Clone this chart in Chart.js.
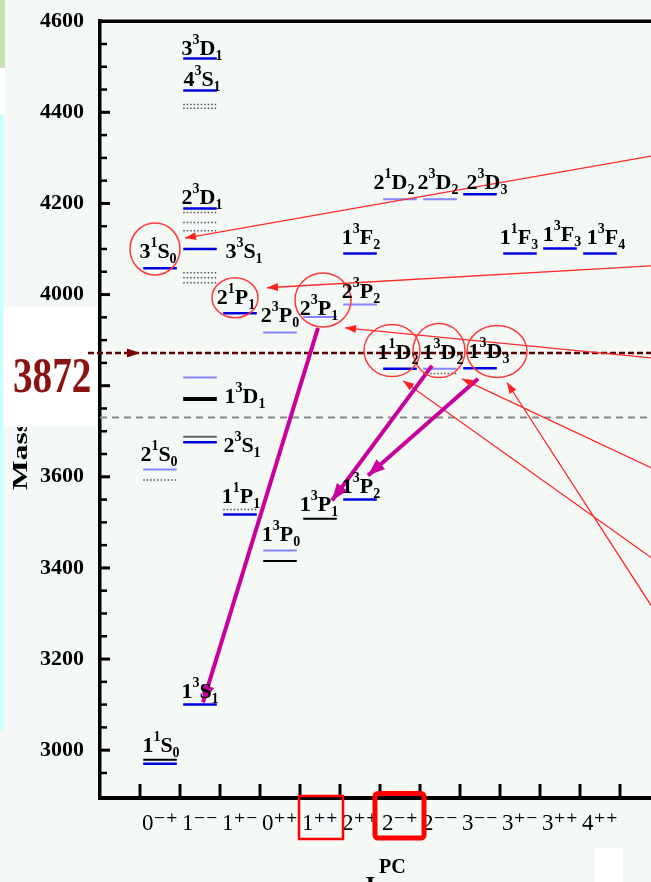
<!DOCTYPE html>
<html>
<head>
<meta charset="utf-8">
<script src="https://cdn.jsdelivr.net/npm/chart.js@4.4.1/dist/chart.umd.min.js"></script>
<style>
  html, body { margin: 0; padding: 0; background: #f5f9f6; overflow: hidden; }
  #wrap { position: relative; width: 651px; height: 882px; }
  canvas { display: block; }
</style>
</head>
<body>
<div id="wrap"><canvas id="spectrum" width="651" height="882"></canvas></div>
<script>
// ---- charmonium spectrum: J^PC columns and masses (MeV) ----
const jpcLabels = ['0-+', '1--', '1+-', '0++', '1++', '2++', '2-+', '2--', '3--', '3+-', '3++', '4++'];
const massTicks = [3000, 3200, 3400, 3600, 3800, 4000, 4200, 4400, 4600];

// predicted levels: name (n^(2S+1)L_J), J^PC column, mass, kind (b = blue, p = pale blue, k = black)
const stateNames = ['1^1S_0', '1^3S_1', '2^1S_0', '2^3S_1', '1^3D_1', '3^1S_0', '3^3S_1', '2^3D_1', '4^3S_1', '3^3D_1',
                    '1^1P_1', '2^1P_1', '1^3P_0', '2^3P_0', '1^3P_1', '2^3P_1', '1^3P_2', '2^3P_2', '1^3F_2',
                    '1^1D_2', '2^1D_2', '1^3D_2', '2^3D_2', '1^3D_3', '2^3D_3', '1^1F_3', '1^3F_3', '1^3F_4'];
const stateJpc   = [0, 1, 0, 1, 1, 0, 1, 1, 1, 1,
                    2, 2, 3, 3, 4, 4, 5, 5, 5,
                    6, 6, 7, 7, 8, 8, 9, 10, 11];
const stateMass  = [2970, 3100, 3616, 3676, 3818, 4058, 4100, 4189, 4448, 4518,
                    3517, 3959, 3438, 3917, 3508, 3951, 3550, 3978, 4090,
                    3837, 4209, 3837, 4209, 3838, 4220, 4090, 4101, 4090];
const stateKind  = ['b', 'b', 'p', 'b', 'p', 'b', 'b', 'b', 'b', 'b',
                    'b', 'b', 'p', 'p', 'k', 'p', 'b', 'p', 'b',
                    'b', 'p', 'p', 'p', 'b', 'b', 'b', 'b', 'b'];

// measured levels (solid black) and further measured states (dotted)
const observedJpc  = [0, 1, 1, 3];
const observedMass = [2979, 3688, 3771, 3415];
const dottedJpc    = [1, 1, 1, 1, 1, 1, 1, 1, 0, 2, 7];
const dottedMass   = [4417, 4409, 4180, 4158, 4140, 4048, 4037, 4026, 3593, 3528, 3827];

// thresholds
const ddThreshold = 3730;
const x3872 = 3872;

// transitions: [from column, from mass, to column, to mass]
const redLinks = [
  [12.275, 4304, 0.625, 4124],
  [12.275, 4063, 2.675, 4015],
  [12.275, 3861, 4.625, 3927],
  [12.275, 3423, 6.075, 3811],
  [12.275, 3620, 7.55, 3815],
  [12.275, 3318, 8.675, 3807]
];
const radiativeLinks = [
  [3.95, 3927, 1.075, 3105],
  [6.8, 3844, 4.3, 3548],
  [7.95, 3815, 5.2, 3603]
];

// highlighted states: [column, mass, rx, ry]
const rings = [
  [-0.125, 4100, 25, 26],
  [1.875, 3993, 23, 20],
  [4.075, 3988, 28, 27],
  [5.8, 3877, 28, 26],
  [6.975, 3877, 26, 27],
  [8.425, 3875, 30, 26]
];

// label placement next to each level, in px: [dx, dy]
const labelLayout = [
  [1, -12], [0, -7], [-1, -9], [42, 10], [45, 26], [-2, -10], [44, 9], [2, -4], [2, -4], [2, -4],
  [1, -12], [-4, -9], [1, -10], [0, -10], [-1, -8], [-1, -2], [1, -7], [1, -7], [1, -10],
  [-2, -10], [-6, -10], [3, -10], [-2, -10], [9, -10], [7, -5], [-1, -10], [2, -8], [6, -10]
];

const HALF = 0.42;
const SERIF = '"Liberation Serif", "DejaVu Serif", serif';
const BLUE = '#0000e0';
const PALE = '#8585ff';

function levelSegments(cols, masses) {
  const pts = [];
  cols.forEach((c, i) => {
    pts.push({ x: c - HALF, y: masses[i] }, { x: c + HALF, y: masses[i] }, { x: c, y: null });
  });
  return pts;
}
function linkSegments(links) {
  const pts = [];
  links.forEach(l => pts.push({ x: l[0], y: l[1] }, { x: l[2], y: l[3] }, { x: l[2], y: null }));
  return pts;
}
function pick(kind) {
  const c = [], m = [];
  stateKind.forEach((k, i) => { if (k === kind) { c.push(stateJpc[i]); m.push(stateMass[i]); } });
  return [c, m];
}
const supMap = { '-': '\u207B', '+': '\u207A' };
function jpcText(s) { return s[0] + s.slice(1).split('').map(ch => supMap[ch]).join(''); }

function arrowHead(ctx, x0, y0, x1, y1, len, w, color) {
  const a = Math.atan2(y1 - y0, x1 - x0);
  ctx.save();
  ctx.translate(x1, y1);
  ctx.rotate(a);
  ctx.beginPath();
  ctx.moveTo(0, 0);
  ctx.lineTo(-len, w / 2);
  ctx.lineTo(-len, -w / 2);
  ctx.closePath();
  ctx.fillStyle = color;
  ctx.fill();
  ctx.restore();
}

function drawStateLabel(ctx, name, cx, by) {
  const m = name.match(/^(\d)\^(\d)([A-Z])_(\d)$/);
  const big = 'bold 22px ' + SERIF, small = 'bold 14px ' + SERIF;
  ctx.font = big; const w1 = ctx.measureText(m[1]).width, w3 = ctx.measureText(m[3]).width;
  ctx.font = small; const w2 = ctx.measureText(m[2]).width, w4 = ctx.measureText(m[4]).width;
  let x = cx - (w1 + w2 + w3 + w4) / 2;
  ctx.fillStyle = '#000';
  ctx.textAlign = 'left';
  ctx.textBaseline = 'alphabetic';
  ctx.font = big; ctx.fillText(m[1], x, by); x += w1;
  ctx.font = small; ctx.fillText(m[2], x, by - 11); x += w2;
  ctx.font = big; ctx.fillText(m[3], x, by); x += w3;
  ctx.font = small; ctx.fillText(m[4], x, by + 5);
}

const decor = {
  id: 'decor',
  beforeDraw(chart) {
    const ctx = chart.ctx;
    ctx.save();
    ctx.fillStyle = '#f5f9f6';
    ctx.fillRect(0, 0, chart.width, chart.height);
    ctx.fillStyle = '#c9e2b3';
    ctx.fillRect(0, 0, 5, 68);
    ctx.fillStyle = '#ffffff';
    ctx.fillRect(0, 68, 5, 47);
    ctx.fillStyle = '#c8ffff';
    ctx.fillRect(0, 115, 3.5, 615);
    ctx.fillStyle = '#ffffff';
    ctx.fillRect(595, 848, 28, 34);
    // axis title
    ctx.translate(27, 490);
    ctx.rotate(-Math.PI / 2);
    ctx.scale(1.5, 1);
    ctx.font = 'bold 21px ' + SERIF;
    ctx.fillStyle = '#000';
    ctx.textAlign = 'left';
    ctx.textBaseline = 'alphabetic';
    ctx.fillText('Mass (MeV)', 0, 0);
    ctx.restore();
  },
  beforeDatasetsDraw(chart) {
    const ctx = chart.ctx;
    ctx.save();
    ctx.fillStyle = '#ffffff';
    ctx.fillRect(3.5, 307, 93.5, 120);
    ctx.translate(13, 392);
    ctx.scale(0.98, 1.24);
    ctx.font = 'bold 40px ' + SERIF;
    ctx.fillStyle = '#8b1212';
    ctx.textAlign = 'left';
    ctx.textBaseline = 'alphabetic';
    ctx.fillText(String(x3872), 0, 0);
    ctx.restore();
  },
  afterDatasetsDraw(chart) {
    const ctx = chart.ctx;
    const xs = chart.scales.x, ys = chart.scales.y;
    const area = chart.chartArea;
    ctx.save();

    // arrowheads
    redLinks.forEach(l => arrowHead(ctx, xs.getPixelForValue(l[0]), ys.getPixelForValue(l[1]),
      xs.getPixelForValue(l[2]), ys.getPixelForValue(l[3]), 11, 8, '#ff2020'));
    radiativeLinks.forEach(l => arrowHead(ctx, xs.getPixelForValue(l[0]), ys.getPixelForValue(l[1]),
      xs.getPixelForValue(l[2]), ys.getPixelForValue(l[3]), 17, 13, '#c8009e'));
    const yX = ys.getPixelForValue(x3872);
    arrowHead(ctx, xs.getPixelForValue(-1.0), yX, xs.getPixelForValue(-0.5), yX, 13, 9, '#7a0000');

    // rings around the highlighted states
    ctx.strokeStyle = '#ff3a3a';
    ctx.lineWidth = 1.5;
    rings.forEach(r => {
      ctx.beginPath();
      ctx.ellipse(xs.getPixelForValue(r[0]), ys.getPixelForValue(r[1]), r[2], r[3], 0, 0, Math.PI * 2);
      ctx.stroke();
    });

    // state labels
    stateNames.forEach((n, i) => {
      const cx = xs.getPixelForValue(stateJpc[i]) + labelLayout[i][0];
      const by = ys.getPixelForValue(stateMass[i]) + labelLayout[i][1];
      drawStateLabel(ctx, n, cx, by);
    });

    // inward tick marks
    ctx.strokeStyle = '#000';
    ctx.lineCap = 'butt';
    for (let v = 2950; v < 4600; v += 50) {
      const major = v % 200 === 0;
      const y = ys.getPixelForValue(v);
      ctx.lineWidth = major ? 3 : 2.5;
      ctx.beginPath();
      ctx.moveTo(area.left, y);
      ctx.lineTo(area.left + (major ? 10 : 7), y);
      ctx.stroke();
    }
    ctx.lineWidth = 3;
    for (let k = -0.5; k <= jpcLabels.length - 0.5; k += 1) {
      const x = xs.getPixelForValue(k);
      ctx.beginPath();
      ctx.moveTo(x, area.bottom);
      ctx.lineTo(x, area.bottom - 14);
      ctx.stroke();
    }
    // top frame line
    ctx.lineWidth = 3.5;
    ctx.beginPath();
    ctx.moveTo(area.left - 1.5, area.top);
    ctx.lineTo(area.right, area.top);
    ctx.stroke();

    // boxes around the 1++ and 2-+ columns
    const c1 = xs.getPixelForValue(4), c2 = xs.getPixelForValue(6);
    ctx.strokeStyle = '#ff0000';
    ctx.lineWidth = 2.5;
    ctx.strokeRect(c1 - 21, 796, 44, 43);
    ctx.lineWidth = 5;
    ctx.beginPath();
    ctx.roundRect(c2 - 25, 793.5, 49, 44.5, 3);
    ctx.stroke();

    // axis title J^PC
    ctx.fillStyle = '#000';
    ctx.textAlign = 'left';
    ctx.textBaseline = 'alphabetic';
    ctx.font = 'bold 26px ' + SERIF;
    ctx.fillText('J', 362, 894);
    ctx.font = 'bold 20px ' + SERIF;
    ctx.fillText('PC', 379, 873);
    ctx.restore();
  }
};

const [blueC, blueM] = pick('b');
const [paleC, paleM] = pick('p');
const [blackC, blackM] = pick('k');

const lineBase = { showLine: true, pointRadius: 0, spanGaps: false, tension: 0 };

new Chart(document.getElementById('spectrum'), {
  type: 'scatter',
  data: {
    datasets: [
      { ...lineBase, label: 'radiative', order: 0, data: linkSegments(radiativeLinks), borderColor: '#c8009e', borderWidth: 4 },
      { ...lineBase, label: 'links', order: 1, data: linkSegments(redLinks), borderColor: '#ff2a2a', borderWidth: 1.3 },
      { ...lineBase, label: 'X(3872)', order: 2, clip: false,
        data: [{ x: -1.8, y: x3872 }, { x: 12.275, y: x3872 }], borderColor: '#5a0000', borderWidth: 2.5, borderDash: [6, 3] },
      { ...lineBase, label: 'DD threshold', order: 3,
        data: [{ x: -1.5, y: ddThreshold }, { x: 12.275, y: ddThreshold }], borderColor: '#8a8a8a', borderWidth: 2, borderDash: [7, 5] },
      { ...lineBase, label: 'predicted', order: 4, data: levelSegments(blueC, blueM), borderColor: BLUE, borderWidth: 2.5 },
      { ...lineBase, label: 'predicted (pale)', order: 4, data: levelSegments(paleC, paleM), borderColor: PALE, borderWidth: 2 },
      { ...lineBase, label: 'measured', order: 4, data: levelSegments(blackC.concat(observedJpc), blackM.concat(observedMass)),
        borderColor: '#000', borderWidth: 2,
        segment: { borderWidth: c => (c.p0.parsed.y === 3771 ? 4 : 2), borderColor: c => (c.p0.parsed.y === 3688 ? '#666' : '#000') } },
      { ...lineBase, label: 'measured (dotted)', order: 4, data: levelSegments(dottedJpc, dottedMass),
        borderColor: '#555', borderWidth: 1.5, borderDash: [1.5, 2] }
    ]
  },
  options: {
    responsive: false,
    animation: false,
    devicePixelRatio: 1,
    layout: { padding: { top: 20, right: 0, bottom: 0, left: 0 } },
    plugins: { legend: { display: false }, tooltip: { enabled: false } },
    scales: {
      x: {
        type: 'linear', min: -1.5, max: 12.275,
        afterFit: s => { s.height = 84; },
        afterBuildTicks: s => { s.ticks = jpcLabels.map((_, i) => ({ value: i })); },
        grid: { display: false },
        border: { display: true, color: '#000', width: 4 },
        ticks: {
          autoSkip: false, maxRotation: 0, padding: 4, color: '#000',
          font: { family: SERIF, size: 23 },
          callback: (v, i) => jpcText(jpcLabels[i])
        }
      },
      y: {
        type: 'linear', min: 2895, max: 4600,
        afterFit: s => { s.width = 100; },
        afterBuildTicks: s => { s.ticks = massTicks.map(v => ({ value: v })); },
        grid: { display: false },
        border: { display: true, color: '#000', width: 3.5 },
        ticks: { padding: 8, color: '#000', font: { family: SERIF, size: 22, weight: 'bold' },
                 callback: v => String(v) }
      }
    }
  },
  plugins: [decor]
});
</script>
</body>
</html>
